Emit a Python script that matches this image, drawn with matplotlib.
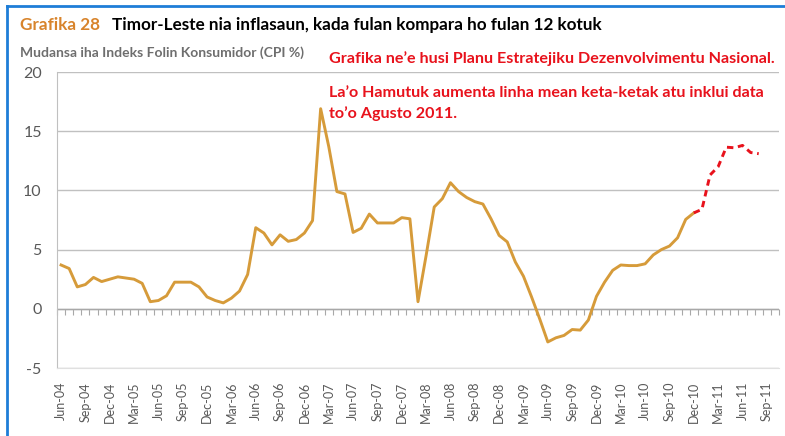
import numpy as np
import matplotlib
matplotlib.use("Agg")
import matplotlib.pyplot as plt
from matplotlib.lines import Line2D

plt.rcParams['font.family'] = ['Lato', 'DejaVu Sans']

# monthly categories Jun-04 .. Oct-11
month_names = ['Jan', 'Feb', 'Mar', 'Apr', 'May', 'Jun',
               'Jul', 'Aug', 'Sep', 'Oct', 'Nov', 'Dec']
months = []
for k in range(89):
    m = (5 + k) % 12
    y = 4 + (5 + k) // 12
    months.append(f"{month_names[m]}-{y:02d}")

# CPI change, % (official series, Jun-04 .. Dec-10)
cpi_official = [3.7, 3.4, 1.85, 2.05, 2.65, 2.3, 2.5, 2.7, 2.6, 2.5,
                2.15, 0.6, 0.7, 1.1, 2.25, 2.25, 2.25, 1.85, 1.0, 0.7,
                0.5, 0.9, 1.5, 2.9, 6.85, 6.4, 5.4, 6.25, 5.7, 5.85,
                6.4, 7.45, 16.9, 13.7, 9.9, 9.7, 6.45, 6.8, 8.0, 7.25,
                7.25, 7.25, 7.7, 7.6, 0.6, 4.5, 8.6, 9.3, 10.65, 9.9,
                9.4, 9.05, 8.85, 7.6, 6.2, 5.65, 3.95, 2.75, 1.0, -0.85,
                -2.8, -2.45, -2.25, -1.75, -1.8, -0.95, 1.05, 2.25, 3.25, 3.7,
                3.65, 3.65, 3.8, 4.55, 5.0, 5.3, 6.0, 7.55, 8.1]

# added by La'o Hamutuk, Dec-10 .. Aug-11
cpi_added_start = 78
cpi_added = [8.1, 8.4, 11.3, 12.0, 13.65, 13.6, 13.8, 13.2, 13.1]

y_ticks = [-5, 0, 5, 10, 15, 20]

orange = '#D69B3A'
red = '#E8121C'
grey_text = '#595959'

fig = plt.figure(figsize=(7.85, 4.36), dpi=100)
ax = fig.add_axes([57 / 785, 1 - 368 / 436, 722 / 785, 296 / 436])

x_off = np.arange(len(cpi_official))
x_add = np.arange(cpi_added_start, cpi_added_start + len(cpi_added))
ax.plot(x_off, cpi_official, color=orange, lw=2.1, solid_joinstyle='round')
ax.plot(x_add, cpi_added, color=red, lw=2.1, dashes=(2.2, 1.6))

ax.set_xlim(-0.5, len(months) - 0.5)
ax.set_ylim(-5, 20)
ax.set_yticks(y_ticks)
ax.set_yticklabels([str(v) for v in y_ticks], fontsize=11.5, color=grey_text)
ax.yaxis.grid(True, color='#c0c0c0', lw=1.0)
ax.set_axisbelow(True)

lab_idx = list(range(0, len(months), 3))
ax.set_xticks(lab_idx)
ax.set_xticklabels([months[i] for i in lab_idx], rotation=90,
                   fontsize=9, color=grey_text)
ax.tick_params(axis='x', length=0, pad=10)
ax.tick_params(axis='y', length=0, pad=11)

for s in ['top', 'right']:
    ax.spines[s].set_visible(False)
ax.spines['left'].set_color('#c0c0c0')
ax.spines['bottom'].set_color('#e0e0e0')

# zero line with monthly tick marks
ax.axhline(0, color='#a8a8a8', lw=1.0, zorder=1)
sec = ax.secondary_xaxis(0.2)
sec.set_xticks(np.arange(-0.5, len(months), 1.0))
sec.set_xticklabels([])
sec.tick_params(axis='x', length=4, width=0.8, color='#a8a8a8', direction='out')
sec.spines['bottom'].set_visible(False)

# titles
fig.text(20 / 785, 1 - 25 / 436, 'Grafika 28', color='#D8842C', fontsize=12.3,
         fontweight='bold', va='center')
fig.text(112 / 785, 1 - 25 / 436,
         'Timor-Leste nia inflasaun, kada fulan kompara ho fulan 12 kotuk',
         color='black', fontsize=12.3, fontweight='bold', va='center')
fig.text(20 / 785, 1 - 53 / 436, 'Mudansa iha Indeks Folin Konsumidor (CPI %)',
         color='#6e6e6e', fontsize=10, fontweight='bold', va='center')

fig.text(329 / 785, 1 - 59 / 436,
         'Grafika ne\u2019e husi Planu Estratejiku Dezenvolvimentu Nasional.',
         color=red, fontsize=11.6, fontweight='bold', va='center')
fig.text(329 / 785, 1 - 93 / 436,
         'La\u2019o Hamutuk aumenta linha mean keta-ketak atu inklui data',
         color=red, fontsize=11.6, fontweight='bold', va='center')
fig.text(329 / 785, 1 - 114 / 436, 'to\u2019o Agusto 2011.',
         color=red, fontsize=11.6, fontweight='bold', va='center')

# blue frame on top and left
fig.add_artist(Line2D([7 / 785, 1], [1 - 6 / 436, 1 - 6 / 436],
                      transform=fig.transFigure, color='#1E7DD7', lw=2))
fig.add_artist(Line2D([7 / 785, 7 / 785], [0, 1 - 6 / 436],
                      transform=fig.transFigure, color='#1E7DD7', lw=2))

fig.savefig('out.png', dpi=100)
